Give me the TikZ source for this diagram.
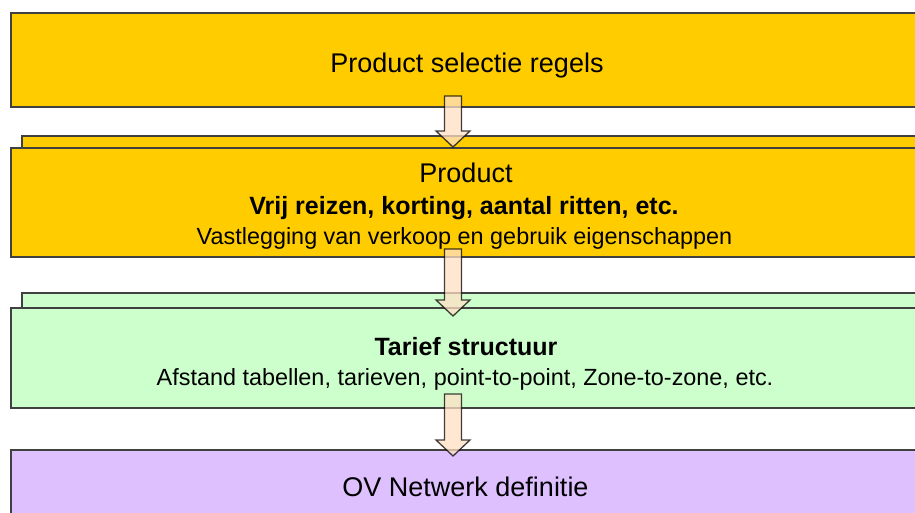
\documentclass[tikz,border=0pt]{standalone}
\usepackage{fontspec}
\setmainfont{Liberation Sans}
\usetikzlibrary{calc}
\definecolor{boxyellow}{RGB}{255,204,0}
\definecolor{boxgreen}{RGB}{204,255,204}
\definecolor{boxpurple}{RGB}{222,192,255}
\definecolor{edgegray}{RGB}{64,64,64}
\definecolor{arrowfill}{RGB}{255,224,196}
\newcommand{\flowarrow}[2]{%
  \draw[flowarrowstyle] ($(#1)+(-8.5,0)$) -- ($(#1)+(8.5,0)$) -- ($(#2)+(8.5,-16)$)
    -- ($(#2)+(17,-16)$) -- (#2) -- ($(#2)+(-17,-16)$) -- ($(#2)+(-8.5,-16)$) -- cycle;}
\begin{document}
\begin{tikzpicture}[x=1pt,y=-1pt,
  layerbox/.style={draw=edgegray, line width=1.5pt, rectangle, inner sep=0pt, outer sep=0pt, anchor=north west},
  maintext/.style={anchor=base, inner sep=0pt, font=\fontsize{27}{32}\selectfont},
  boldtext/.style={anchor=base, inner sep=0pt, font=\fontsize{25}{30}\selectfont\bfseries},
  subtext/.style={anchor=base, inner sep=0pt, font=\fontsize{23.4}{28}\selectfont},
  flowarrowstyle/.style={fill=arrowfill, fill opacity=0.75, draw=black, draw opacity=0.75, line width=1.3pt, line join=miter}]
\useasboundingbox (0,0) rectangle (915,512);
\clip (0,0) rectangle (915,512);
\fill[white] (0,0) rectangle (915,512);
% boxes
\node[layerbox, fill=boxyellow, minimum width=912, minimum height=94] (b1) at (11,13) {};
\node[layerbox, fill=boxyellow, minimum width=901, minimum height=14] (b2back) at (22,136) {};
\node[layerbox, fill=boxyellow, minimum width=912, minimum height=109] (b2) at (11,148) {};
\node[layerbox, fill=boxgreen, minimum width=901, minimum height=17] (b3back) at (22,293) {};
\node[layerbox, fill=boxgreen, minimum width=912, minimum height=100] (b3) at (11,308) {};
\node[layerbox, fill=boxpurple, minimum width=912, minimum height=80] (b4) at (11,450) {};
% texts
\node[maintext] (t1) at (467,72) {Product selectie regels};
\node[maintext] (t2a) at (466,182) {Product};
\node[boldtext] (t2b) at (464,214) {Vrij reizen, korting, aantal ritten, etc.};
\node[subtext] (t2c) at (464.5,244) {Vastlegging van verkoop en gebruik eigenschappen};
\node[boldtext] (t3a) at (466,355) {Tarief structuur};
\node[subtext] (t3b) at (465,385) {Afstand tabellen, tarieven, point-to-point, Zone-to-zone, etc.};
\node[maintext] (t4) at (465.5,496) {OV Netwerk definitie};
% arrow anchor coordinates
\coordinate (a1top) at ($(b1.south west)+(442,-11)$);
\coordinate (a1tip) at ($(b2.north west)+(442,-1)$);
\coordinate (a2top) at ($(b2.south west)+(442,-8)$);
\coordinate (a2tip) at ($(b3.north west)+(442,8)$);
\coordinate (a3top) at ($(b3.south west)+(442,-14)$);
\coordinate (a3tip) at ($(b4.north west)+(442,6)$);
\flowarrow{a1top}{a1tip}
\flowarrow{a2top}{a2tip}
\flowarrow{a3top}{a3tip}
\end{tikzpicture}
\end{document}
